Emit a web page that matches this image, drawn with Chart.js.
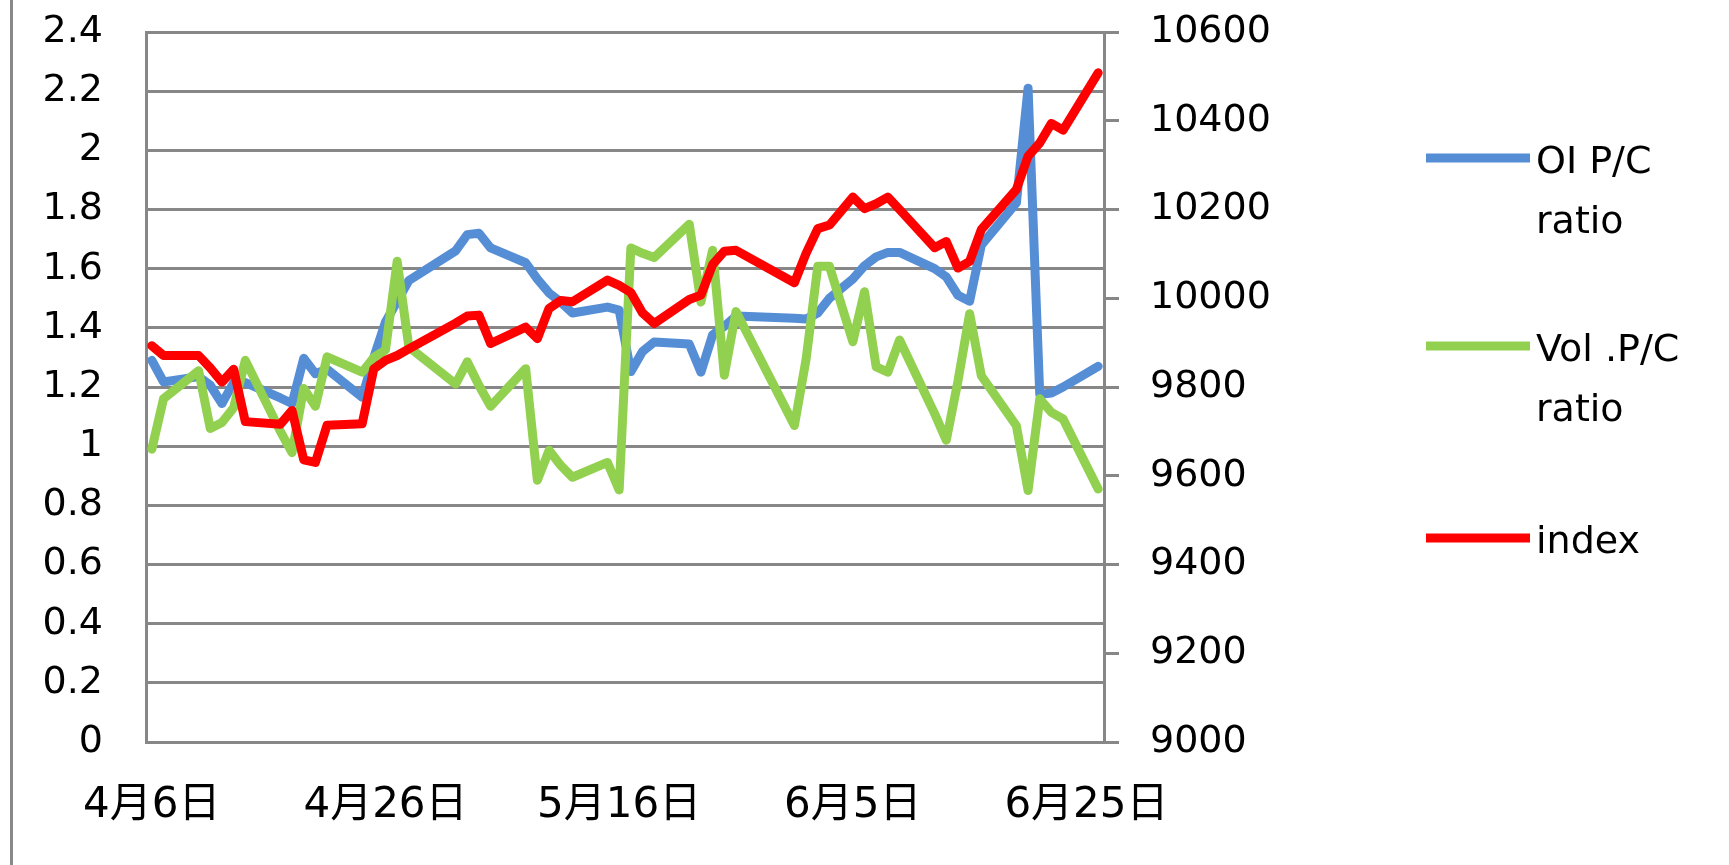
<!DOCTYPE html>
<html>
<head>
<meta charset="utf-8">
<script src="https://cdn.jsdelivr.net/npm/chart.js@4.4.1/dist/chart.umd.min.js"></script>
<style>
html,body{margin:0;padding:0;background:#ffffff;}
#wrap{position:relative;width:1729px;height:865px;overflow:hidden;background:#ffffff;}
#edge{position:absolute;left:10px;top:0;width:3px;height:865px;background:#898989;}
canvas{position:absolute;left:0;top:0;}
</style>
</head>
<body>
<div id="wrap"><canvas id="c" width="1729" height="865"></canvas><div id="edge"></div></div>
<script>
// ---- data (trading days) ----
const dates = ["4/6","4/7","4/10","4/11","4/12","4/13","4/14","4/17","4/18","4/19","4/20","4/21",
  "4/24","4/25","4/26","4/27","4/28","5/2","5/3","5/4","5/5","5/8","5/9","5/10","5/11","5/12",
  "5/15","5/16","5/17","5/18","5/19","5/22","5/23","5/24","5/25","5/26","5/31","6/1","6/2","6/3",
  "6/5","6/6","6/7","6/8","6/9","6/12","6/13","6/14","6/15","6/16","6/19","6/20","6/21","6/22","6/23","6/26"];

const oiRatio = [1.29,1.217,1.235,1.206,1.144,1.215,1.215,1.163,1.144,1.297,1.245,1.26,
  1.165,1.30,1.42,1.49,1.56,1.66,1.715,1.72,1.67,1.62,1.565,1.518,1.487,1.45,
  1.47,1.46,1.252,1.32,1.352,1.345,1.25,1.376,1.405,1.44,1.432,1.43,1.45,1.50,
  1.565,1.61,1.64,1.655,1.655,1.60,1.572,1.51,1.49,1.68,1.822,2.21,1.175,1.18,1.20,1.27];

const volRatio = [0.99,1.16,1.255,1.06,1.08,1.13,1.29,1.05,0.978,1.195,1.135,1.302,
  1.25,1.30,1.325,1.625,1.335,1.21,1.285,1.205,1.135,1.262,0.885,0.986,0.935,0.895,
  0.945,0.852,1.67,1.652,1.638,1.75,1.487,1.662,1.24,1.455,1.07,1.294,1.608,1.608,
  1.353,1.522,1.268,1.25,1.359,1.11,1.02,1.22,1.448,1.238,1.069,0.85,1.16,1.114,1.092,0.855];

const indexValues = [9893,9871,9871,9843,9811,9840,9722,9716,9747,9636,9630,9714,
  9717,9841,9860,9871,9886,9944,9960,9962,9898,9935,9909,9977,9995,9992,
  10041,10029,10013,9967,9943,9997,10007,10076,10106,10108,10035,10101,10157,10165,
  10228,10202,10213,10228,10200,10114,10128,10068,10083,10155,10245,10320,10350,10394,10379,10508];

const seriesNames = ["OI P/C ratio","Vol .P/C ratio","index"];
const tickDates = ["4/6","4/26","5/16","6/5","6/25"];
const tickLabels = ["4月6日","4月26日","5月16日","6月5日","6月25日"];
const firstDate = "4/6";
const lastDate = "6/26";

// ---- helpers ----
function dayOffset(s){
  const p = s.split('/').map(Number);
  const q = firstDate.split('/').map(Number);
  return Math.round((Date.UTC(2017,p[0]-1,p[1]) - Date.UTC(2017,q[0]-1,q[1])) / 864e5);
}
const days = dates.map(dayOffset);
const tickDays = tickDates.map(dayOffset);
const toPoints = vals => days.map((d,i) => ({x:d, y:vals[i]}));

const GRID = '#878787';
const FONT = "'DejaVu Sans','Noto Sans CJK JP',sans-serif";

const legendRowsY = [158, 346, 538];
const sideLegend = {
  id: 'sideLegend',
  afterDraw(chart){
    const ctx = chart.ctx;
    ctx.save();
    chart.data.datasets.forEach((ds, i) => {
      const y = legendRowsY[i];
      ctx.strokeStyle = ds.borderColor;
      ctx.lineWidth = 9;
      ctx.lineCap = 'butt';
      ctx.beginPath(); ctx.moveTo(1426, y); ctx.lineTo(1530, y); ctx.stroke();
      ctx.fillStyle = '#000';
      ctx.font = "38px " + FONT;
      ctx.textAlign = 'left';
      ctx.textBaseline = 'alphabetic';
      const t = ds.label;
      const k = t.lastIndexOf(' ');
      const lines = k > 0 ? [t.slice(0,k), t.slice(k+1)] : [t];
      lines.forEach((s, j) => ctx.fillText(s, 1536, y + 15 + j*60));
    });
    ctx.restore();
  }
};

function fitV(width){
  return s => { s.width = width; s.paddingTop = 0; s.paddingBottom = 0; };
}

new Chart(document.getElementById('c'), {
  type: 'line',
  data: {
    datasets: [
      {label: seriesNames[0], data: toPoints(oiRatio), yAxisID: 'y', borderColor: '#558ED5', order: 3},
      {label: seriesNames[1], data: toPoints(volRatio), yAxisID: 'y', borderColor: '#92D050', order: 2},
      {label: seriesNames[2], data: toPoints(indexValues), yAxisID: 'y1', borderColor: '#FF0000', order: 1}
    ]
  },
  options: {
    responsive: false,
    animation: false,
    devicePixelRatio: 1,
    layout: {padding: {top: 32, right: 425, bottom: 0, left: 0}},
    elements: {
      point: {radius: 0, hoverRadius: 0},
      line: {borderWidth: 9, tension: 0, fill: false, borderCapStyle: 'round', borderJoinStyle: 'round'}
    },
    plugins: {legend: {display: false}, tooltip: {enabled: false}},
    scales: {
      x: {
        type: 'linear',
        min: dayOffset(firstDate) - 0.5,
        max: dayOffset(lastDate) + 0.5,
        afterBuildTicks: s => { s.ticks = tickDays.map(v => ({value: v})); },
        afterFit: s => { s.height = 123; s.paddingLeft = 0; s.paddingRight = 0; },
        grid: {display: false, drawTicks: false},
        border: {display: true, color: GRID, width: 3},
        ticks: {
          autoSkip: false, maxRotation: 0, minRotation: 0, padding: 39,
          color: '#000', font: {family: FONT, size: 42},
          callback: (v, i) => tickLabels[i]
        }
      },
      y: {
        position: 'left',
        min: 0, max: 2.4,
        afterFit: fitV(146),
        grid: {color: GRID, lineWidth: 3, drawTicks: false},
        border: {display: true, color: GRID, width: 3},
        ticks: {
          stepSize: 0.2, padding: 43, color: '#000', font: {family: FONT, size: 38},
          callback: v => String(Number(v.toFixed(1)))
        }
      },
      y1: {
        position: 'right',
        min: 9000, max: 10600,
        afterFit: fitV(200),
        grid: {drawOnChartArea: false, drawTicks: true, tickLength: 15, color: GRID, lineWidth: 3},
        border: {display: true, color: GRID, width: 3},
        ticks: {
          stepSize: 200, padding: 31, color: '#000', font: {family: FONT, size: 38},
          callback: v => String(v)
        }
      }
    }
  },
  plugins: [sideLegend]
});
</script>
</body>
</html>
